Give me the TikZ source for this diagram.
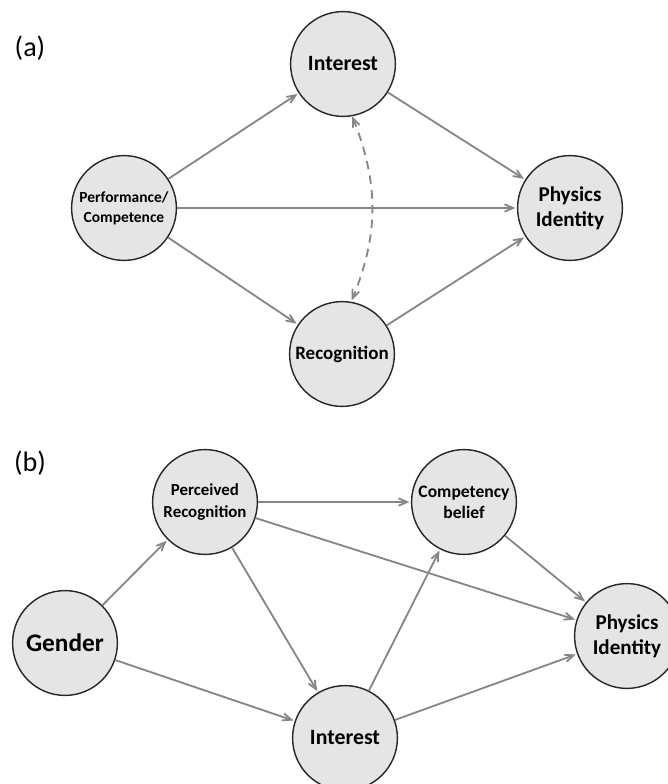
\documentclass[tikz,border=0pt]{standalone}
\usepackage{fontspec}
\setmainfont{Carlito}
\usepackage{xcolor}
\usetikzlibrary{arrows, positioning}

\begin{document}
\begin{tikzpicture}[x=0.025cm, y=-0.025cm, ->, >=angle 45, shorten >=1pt, line width=1.3pt]
  \tikzstyle{factor} = [circle, draw=black!85, line width=1pt, fill=gray!20, minimum size=2.62cm, inner sep=0pt, align=center]
  \tikzstyle{link} = [draw=gray!95]

  \useasboundingbox (0,0) rectangle (668,784);

  % (a)
  \node[font=\fontsize{20}{24}\selectfont] (labelA) at (30,48) {(a)};
  \node[factor, font=\bfseries\fontsize{15.5}{18}\selectfont] (InterestA) at (343,64) {Interest};
  \node[factor, font=\bfseries\fontsize{11}{14}\selectfont] (Perf) at (124,208) {Performance/\\Competence};
  \node[factor, font=\bfseries\fontsize{15}{18}\selectfont] (IdentityA) at (570,208) {Physics\\Identity};
  \node[factor, font=\bfseries\fontsize{13.5}{16}\selectfont] (RecogA) at (342,354) {Recognition};

  \path[link]
    (Perf) edge (InterestA)
    (InterestA) edge (IdentityA)
    (Perf) edge (IdentityA)
    (Perf) edge (RecogA)
    (RecogA) edge (IdentityA);
  \draw[link, <->, dash pattern=on 6pt off 4.5pt] (InterestA.-80) to[bend left=22] (RecogA.80);

  % (b)
  \node[font=\fontsize{20}{24}\selectfont] (labelB) at (30,463) {(b)};
  \node[factor, font=\bfseries\fontsize{12}{15}\selectfont] (PercRec) at (205,502) {Perceived\\Recognition};
  \node[factor, font=\bfseries\fontsize{12.5}{15}\selectfont] (Belief) at (464,502) {Competency\\belief};
  \node[factor, font=\bfseries\fontsize{18}{21}\selectfont] (Gender) at (65,643) {Gender};
  \node[factor, font=\bfseries\fontsize{15.5}{18}\selectfont] (InterestB) at (345,738) {Interest};
  \node[factor, font=\bfseries\fontsize{15}{18}\selectfont] (IdentityB) at (627,636) {Physics\\Identity};

  \path[link]
    (Gender) edge (PercRec)
    (Gender) edge (InterestB)
    (PercRec) edge (Belief)
    (PercRec) edge (IdentityB)
    (PercRec) edge (InterestB)
    (InterestB) edge (Belief)
    (InterestB) edge (IdentityB)
    (Belief) edge (IdentityB);
\end{tikzpicture}
\end{document}
